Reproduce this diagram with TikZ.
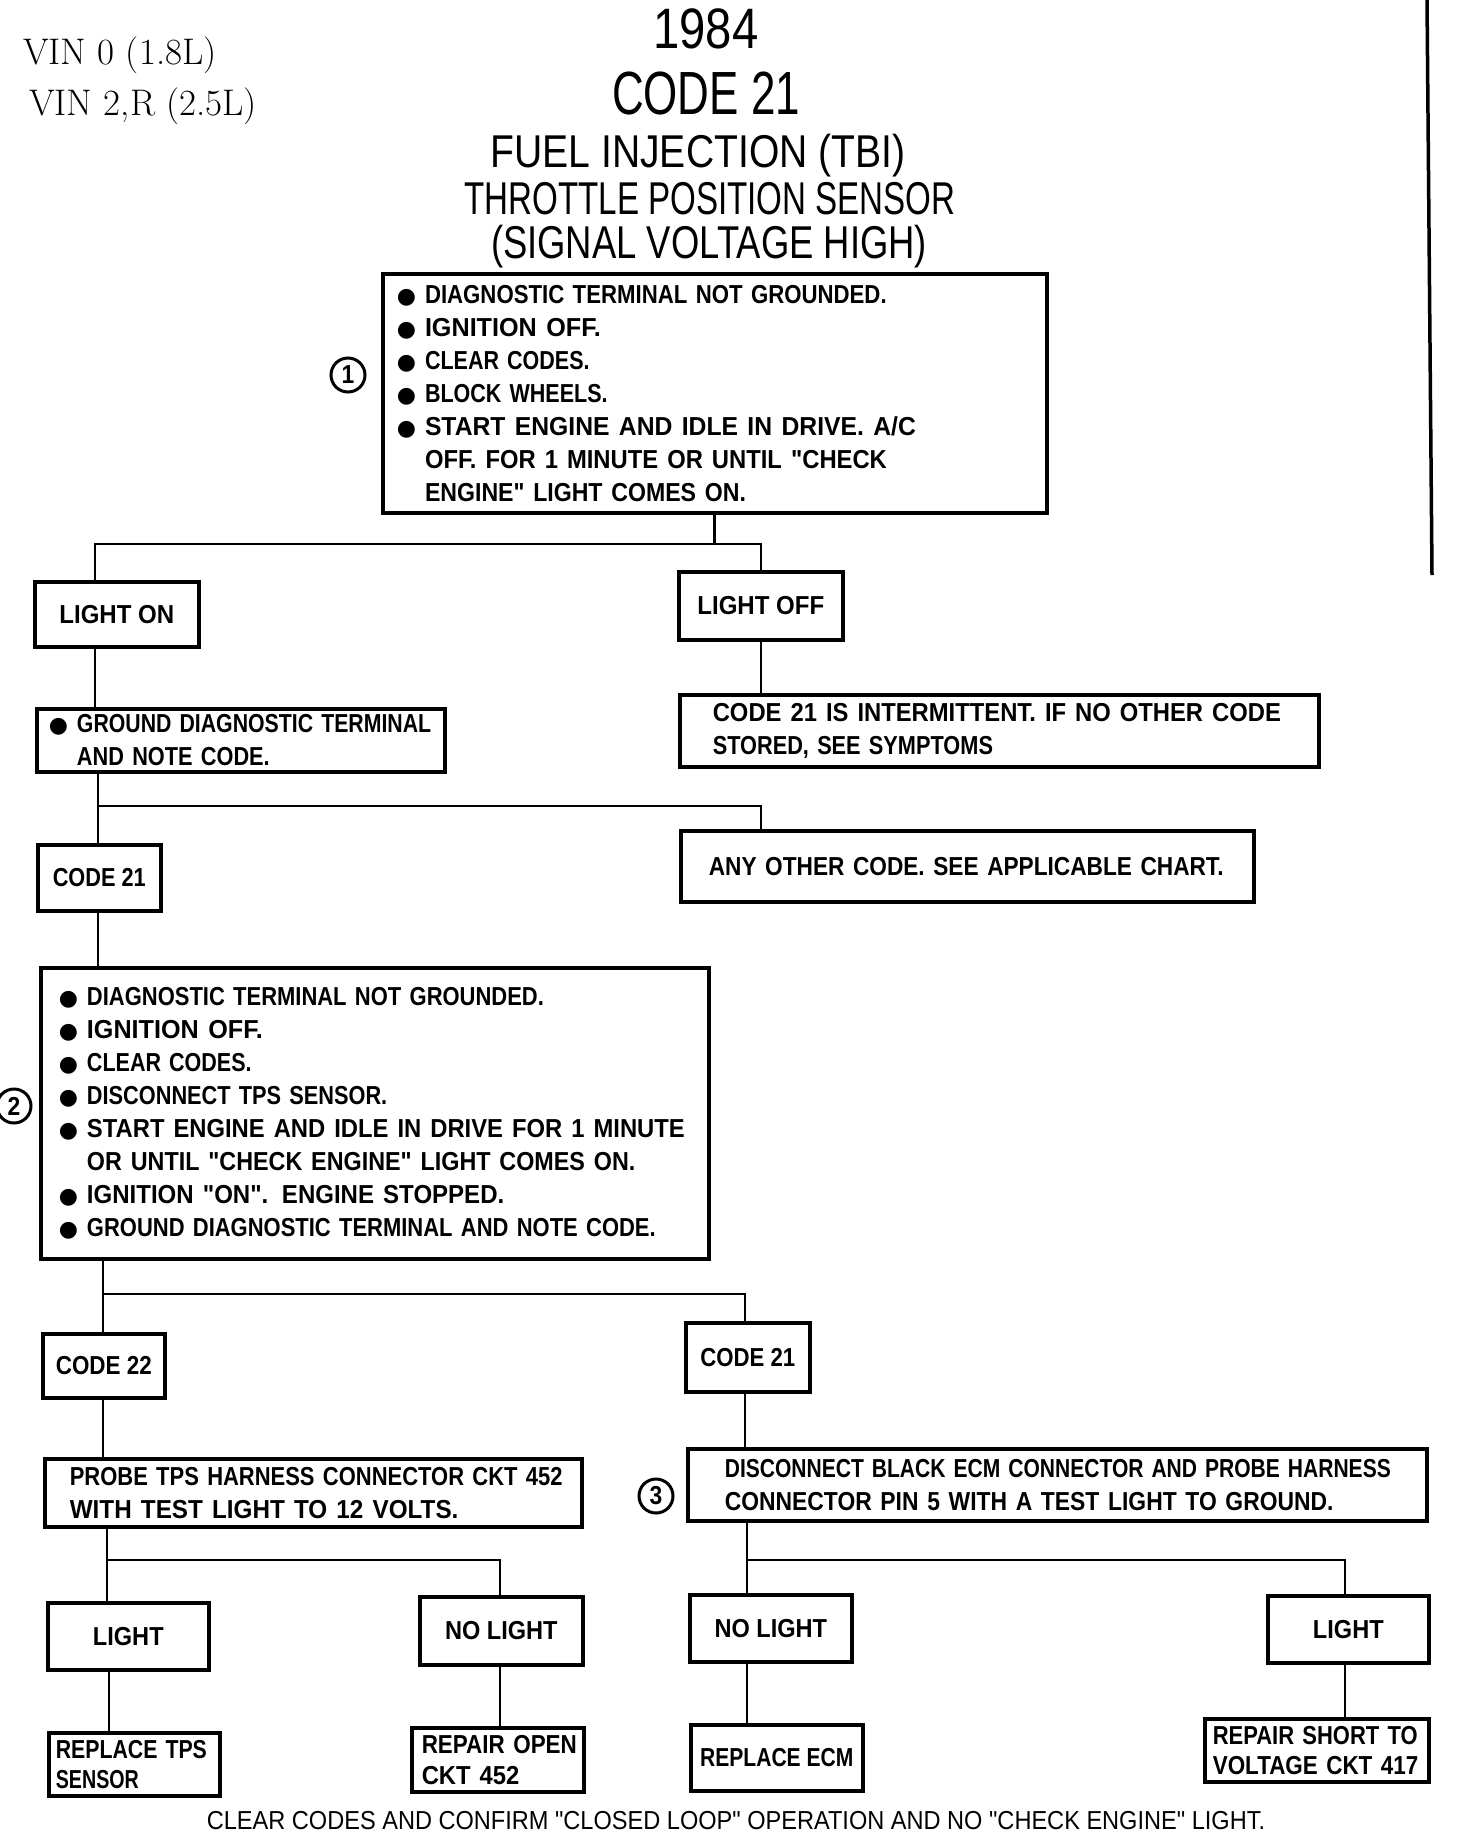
\documentclass[tikz,border=0pt]{standalone}
\usepackage{fontspec}
\usepackage{graphicx}
\newfontfamily\dm{Liberation Sans}[FakeStretch=0.88]
\newfontfamily\ttl{Liberation Sans}[FakeStretch=0.72]
\newfontfamily\symf{DejaVu Sans}
\newcommand\bul{{\symf\fontsize{22}{33}\selectfont ●}\hspace{9pt}}
\newcommand\bulsp{\hphantom{\bul}}
\newcommand\sx[2]{\scalebox{#1}[1]{#2}}
\tikzset{
  tb/.style={draw, line width=3.6pt, anchor=north west, align=left,
    font=\dm\bfseries\fontsize{26}{33}\selectfont, inner ysep=0pt},
  sb/.style={draw, line width=3.6pt, anchor=north west, align=center,
    font=\dm\bfseries\fontsize{26}{33}\selectfont, inner sep=0pt},
  conn/.style={line width=2.8pt},
  circ/.style={circle, draw, line width=3pt, minimum size=34pt, inner sep=0pt,
    font=\dm\bfseries\fontsize{26}{26}\selectfont},
  ttlf/.style={font=\ttl\fontsize{#1}{#1}\selectfont, inner sep=0pt}
}
\begin{document}
\begin{tikzpicture}[x=1pt,y=-1pt]
\useasboundingbox[fill=white] (0,0) rectangle (1456,1836);
% header
\node[anchor=base west, font=\fontsize{37}{40}\selectfont, inner sep=0pt] (vin1) at (23,65) {VIN 0 (1.8L)};
\node[anchor=base west, font=\fontsize{37}{40}\selectfont, inner sep=0pt] (vin2) at (29,115) {VIN 2,R (2.5L)};
\node[ttlf=57] (yr) at (706,29) {\sx{1.15}{1984}};
\node[ttlf=61] (code) at (706,94) {CODE 21};
\node[ttlf=46] (t1) at (698,156) {\sx{1.18}{FUEL INJECTION (TBI)}};
\node[ttlf=46] (t2) at (710,199) {THROTTLE POSITION SENSOR};
\node[ttlf=46] (t3) at (709,247) {\sx{1.1}{(SIGNAL VOLTAGE HIGH)}};
\draw[line width=3.5pt] (1427,0) -- (1432,575);

% box 1
\node[tb, minimum height=239pt, inner xsep=14pt, text width=636pt] (b1) at (381,272) {%
\bul\sx{0.97}{DIAGNOSTIC TERMINAL NOT GROUNDED.}\\
\bul\sx{1.1}{IGNITION OFF.}\\
\bul\sx{0.94}{CLEAR CODES.}\\
\bul\sx{0.94}{BLOCK WHEELS.}\\
\bul\sx{1.08}{START ENGINE AND IDLE IN DRIVE. A/C}\\
\bulsp\sx{1.04}{OFF. FOR 1 MINUTE OR UNTIL "CHECK}\\
\bulsp\sx{1.01}{ENGINE" LIGHT COMES ON.}};
\node[circ] (n1) at (348,375) {1};

\node[sb, minimum width=164pt, minimum height=65pt] (lon) at (33,580) {\sx{1.05}{LIGHT ON}};
\node[sb, minimum width=164pt, minimum height=68pt] (loff) at (677,570) {\sx{1.05}{LIGHT OFF}};
\node[tb, minimum height=63pt, inner xsep=12pt, text width=384pt] (gnd) at (35,707) {%
\bul\sx{0.93}{GROUND DIAGNOSTIC TERMINAL}\\
\bulsp\sx{0.95}{AND NOTE CODE.}};
\node[tb, minimum height=72pt, inner xsep=33pt, text width=573pt] (int) at (678,693) {%
\sx{1.04}{CODE 21 IS INTERMITTENT. IF NO OTHER CODE}\\
\sx{0.95}{STORED, SEE SYMPTOMS}};
\node[sb, minimum width=123pt, minimum height=66pt] (c21a) at (36,843) {\sx{0.95}{CODE 21}};
\node[tb, minimum height=71pt, inner xsep=28pt, text width=517pt] (other) at (679,829) {%
\sx{0.99}{ANY OTHER CODE. SEE APPLICABLE CHART.}};

% box 2
\node[tb, minimum height=291pt, inner xsep=18pt, text width=632pt] (b2) at (39,966) {%
\bul\sx{0.96}{DIAGNOSTIC TERMINAL NOT GROUNDED.}\\
\bul\sx{1.1}{IGNITION OFF.}\\
\bul\sx{0.94}{CLEAR CODES.}\\
\bul\sx{0.95}{DISCONNECT TPS SENSOR.}\\
\bul\sx{1.04}{START ENGINE AND IDLE IN DRIVE FOR 1 MINUTE}\\
\bulsp\sx{1.02}{OR UNTIL "CHECK ENGINE" LIGHT COMES ON.}\\
\bul\sx{1.05}{IGNITION "ON". ENGINE STOPPED.}\\
\bul\sx{0.96}{GROUND DIAGNOSTIC TERMINAL AND NOTE CODE.}};
\node[circ] (n2) at (14,1106) {2};

\node[sb, minimum width=122pt, minimum height=64pt] (c22) at (41,1332) {\sx{0.98}{CODE 22}};
\node[sb, minimum width=124pt, minimum height=69pt] (c21b) at (684,1321) {\sx{0.97}{CODE 21}};
\node[tb, minimum height=68pt, inner xsep=25pt, text width=487pt] (probe) at (43,1457) {%
\sx{0.96}{PROBE TPS HARNESS CONNECTOR CKT 452}\\
\sx{1.06}{WITH TEST LIGHT TO 12 VOLTS.}};
\node[tb, minimum height=72pt, inner xsep=37pt, text width=665pt] (disc) at (686,1447) {%
\sx{0.92}{DISCONNECT BLACK ECM CONNECTOR AND PROBE HARNESS}\\
\sx{1.0}{CONNECTOR PIN 5 WITH A TEST LIGHT TO GROUND.}};
\node[circ] (n3) at (656,1496) {3};

\node[sb, minimum width=161pt, minimum height=67pt] (lt1) at (46,1601) {\sx{1.03}{LIGHT}};
\node[sb, minimum width=163pt, minimum height=68pt] (nl1) at (418,1595) {\sx{1.03}{NO LIGHT}};
\node[sb, minimum width=162pt, minimum height=67pt] (nl2) at (688,1593) {\sx{1.03}{NO LIGHT}};
\node[sb, minimum width=161pt, minimum height=67pt] (lt2) at (1266,1594) {\sx{1.03}{LIGHT}};

\node[tb, minimum height=63pt, inner xsep=7pt, text width=157pt, font=\dm\bfseries\fontsize{26}{30}\selectfont] (rtps) at (47,1731) {%
\sx{0.93}{REPLACE TPS}\\ \sx{0.86}{SENSOR}};
\node[tb, minimum height=64pt, inner xsep=10pt, text width=152pt, font=\dm\bfseries\fontsize{26}{31}\selectfont] (ropen) at (410,1726) {%
\sx{0.98}{REPAIR OPEN}\\ \sx{1.04}{CKT 452}};
\node[sb, minimum width=172pt, minimum height=66pt] (recm) at (689,1723) {\sx{0.92}{REPLACE ECM}};
\node[tb, minimum height=63pt, inner xsep=8pt, text width=208pt, font=\dm\bfseries\fontsize{26}{30}\selectfont] (rshort) at (1203,1717) {%
\sx{0.96}{REPAIR SHORT TO}\\ \sx{0.98}{VOLTAGE CKT 417}};

\node[font=\dm\fontsize{26}{26}\selectfont, inner sep=0pt] (foot) at (736,1821) {\sx{1.03}{CLEAR CODES AND CONFIRM "CLOSED LOOP" OPERATION AND NO "CHECK ENGINE" LIGHT.}};

% connectors
\coordinate (j1L) at (95,544); \coordinate (j1R) at (761,544);
\draw[conn] (b1.south) -- (b1.south |- j1L);
\draw[conn] (lon.north -| j1L) -- (j1L) -- (j1R) -- (loff.north -| j1R);
\draw[conn] (lon.south -| j1L) -- (gnd.north -| j1L);
\draw[conn] (loff.south -| j1R) -- (int.north -| j1R);

\coordinate (j2L) at (98,806); \coordinate (j2R) at (761,806);
\draw[conn] (gnd.south -| j2L) -- (c21a.north -| j2L);
\draw[conn] (j2L) -- (j2R) -- (other.north -| j2R);
\draw[conn] (c21a.south -| j2L) -- (b2.north -| j2L);

\coordinate (j3L) at (103,1294); \coordinate (j3R) at (745,1294);
\draw[conn] (b2.south -| j3L) -- (c22.north -| j3L);
\draw[conn] (j3L) -- (j3R) -- (c21b.north -| j3R);
\draw[conn] (c22.south -| j3L) -- (probe.north -| j3L);
\draw[conn] (c21b.south -| j3R) -- (disc.north -| j3R);

\coordinate (j4L) at (107,1560); \coordinate (j4R) at (500,1560);
\draw[conn] (probe.south -| j4L) -- (lt1.north -| j4L);
\draw[conn] (j4L) -- (j4R) -- (nl1.north -| j4R);
\coordinate (c4L) at (109,1700);
\draw[conn] (lt1.south -| c4L) -- (rtps.north -| c4L);
\draw[conn] (nl1.south -| j4R) -- (ropen.north -| j4R);

\coordinate (j5L) at (747,1560); \coordinate (j5R) at (1345,1560);
\draw[conn] (disc.south -| j5L) -- (nl2.north -| j5L);
\draw[conn] (j5L) -- (j5R) -- (lt2.north -| j5R);
\draw[conn] (nl2.south -| j5L) -- (recm.north -| j5L);
\draw[conn] (lt2.south -| j5R) -- (rshort.north -| j5R);
\end{tikzpicture}
\end{document}
